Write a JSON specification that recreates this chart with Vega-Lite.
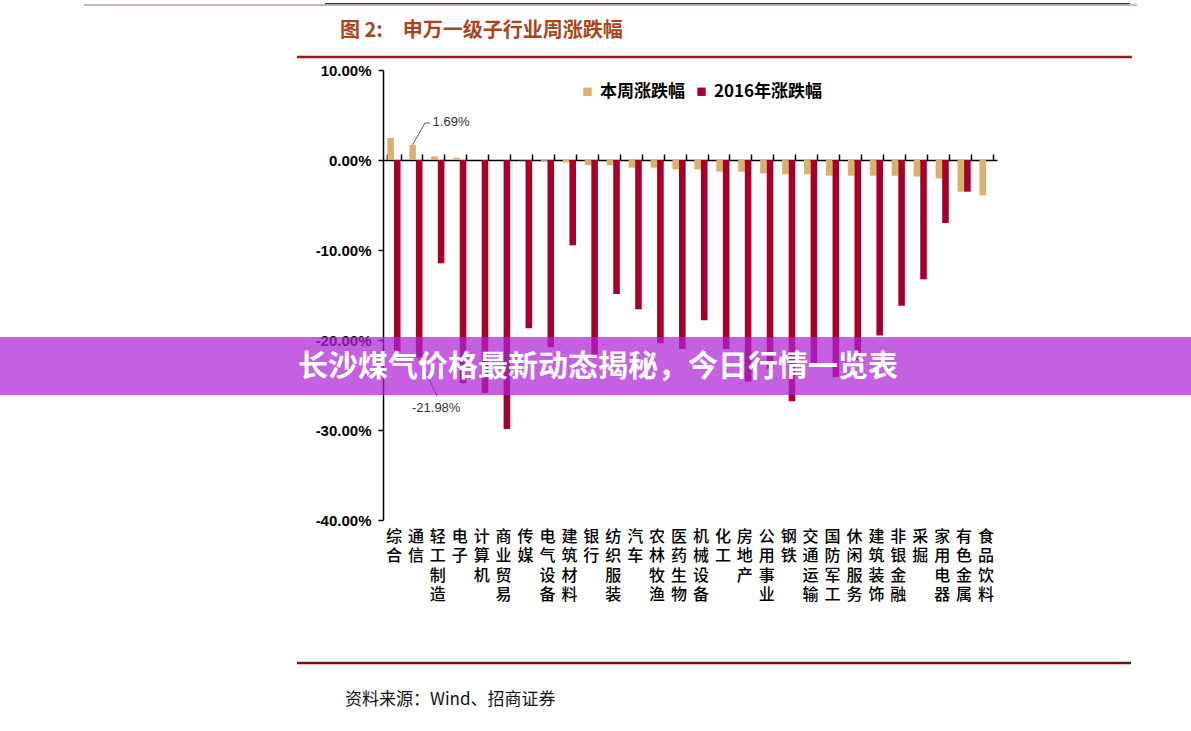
{
  "$schema": "https://vega.github.io/schema/vega-lite/v6.json",
  "width": 614,
  "height": 450,
  "autosize": {"type": "none"},
  "padding": {"left": 383, "top": 70, "right": 194, "bottom": 211},
  "background": "white",
  "config": {"view": {"stroke": null}},
  "layer": [
    {
      "data": {"values": [
        {"行业": "综合", "series": "本周涨跌幅", "value": 0.0245},
        {"行业": "综合", "series": "2016年涨跌幅", "value": -0.213},
        {"行业": "通信", "series": "本周涨跌幅", "value": 0.0169},
        {"行业": "通信", "series": "2016年涨跌幅", "value": -0.2198},
        {"行业": "轻工制造", "series": "本周涨跌幅", "value": 0.004},
        {"行业": "轻工制造", "series": "2016年涨跌幅", "value": -0.1148},
        {"行业": "电子", "series": "本周涨跌幅", "value": 0.0026},
        {"行业": "电子", "series": "2016年涨跌幅", "value": -0.248},
        {"行业": "计算机", "series": "本周涨跌幅", "value": 0.0005},
        {"行业": "计算机", "series": "2016年涨跌幅", "value": -0.259},
        {"行业": "商业贸易", "series": "本周涨跌幅", "value": 0.0002},
        {"行业": "商业贸易", "series": "2016年涨跌幅", "value": -0.299},
        {"行业": "传媒", "series": "本周涨跌幅", "value": -0.0003},
        {"行业": "传媒", "series": "2016年涨跌幅", "value": -0.187},
        {"行业": "电气设备", "series": "本周涨跌幅", "value": -0.001},
        {"行业": "电气设备", "series": "2016年涨跌幅", "value": -0.208},
        {"行业": "建筑材料", "series": "本周涨跌幅", "value": -0.0028},
        {"行业": "建筑材料", "series": "2016年涨跌幅", "value": -0.0948},
        {"行业": "银行", "series": "本周涨跌幅", "value": -0.0057},
        {"行业": "银行", "series": "2016年涨跌幅", "value": -0.217},
        {"行业": "纺织服装", "series": "本周涨跌幅", "value": -0.0057},
        {"行业": "纺织服装", "series": "2016年涨跌幅", "value": -0.1489},
        {"行业": "汽车", "series": "本周涨跌幅", "value": -0.0085},
        {"行业": "汽车", "series": "2016年涨跌幅", "value": -0.1659},
        {"行业": "农林牧渔", "series": "本周涨跌幅", "value": -0.0085},
        {"行业": "农林牧渔", "series": "2016年涨跌幅", "value": -0.2037},
        {"行业": "医药生物", "series": "本周涨跌幅", "value": -0.0104},
        {"行业": "医药生物", "series": "2016年涨跌幅", "value": -0.21},
        {"行业": "机械设备", "series": "本周涨跌幅", "value": -0.0104},
        {"行业": "机械设备", "series": "2016年涨跌幅", "value": -0.178},
        {"行业": "化工", "series": "本周涨跌幅", "value": -0.013},
        {"行业": "化工", "series": "2016年涨跌幅", "value": -0.21},
        {"行业": "房地产", "series": "本周涨跌幅", "value": -0.013},
        {"行业": "房地产", "series": "2016年涨跌幅", "value": -0.246},
        {"行业": "公用事业", "series": "本周涨跌幅", "value": -0.0148},
        {"行业": "公用事业", "series": "2016年涨跌幅", "value": -0.232},
        {"行业": "钢铁", "series": "本周涨跌幅", "value": -0.0159},
        {"行业": "钢铁", "series": "2016年涨跌幅", "value": -0.268},
        {"行业": "交通运输", "series": "本周涨跌幅", "value": -0.0159},
        {"行业": "交通运输", "series": "2016年涨跌幅", "value": -0.23},
        {"行业": "国防军工", "series": "本周涨跌幅", "value": -0.0174},
        {"行业": "国防军工", "series": "2016年涨跌幅", "value": -0.241},
        {"行业": "休闲服务", "series": "本周涨跌幅", "value": -0.0174},
        {"行业": "休闲服务", "series": "2016年涨跌幅", "value": -0.222},
        {"行业": "建筑装饰", "series": "本周涨跌幅", "value": -0.0174},
        {"行业": "建筑装饰", "series": "2016年涨跌幅", "value": -0.195},
        {"行业": "非银金融", "series": "本周涨跌幅", "value": -0.0174},
        {"行业": "非银金融", "series": "2016年涨跌幅", "value": -0.162},
        {"行业": "采掘", "series": "本周涨跌幅", "value": -0.0185},
        {"行业": "采掘", "series": "2016年涨跌幅", "value": -0.1326},
        {"行业": "家用电器", "series": "本周涨跌幅", "value": -0.0204},
        {"行业": "家用电器", "series": "2016年涨跌幅", "value": -0.07},
        {"行业": "有色金属", "series": "本周涨跌幅", "value": -0.0352},
        {"行业": "有色金属", "series": "2016年涨跌幅", "value": -0.0352},
        {"行业": "食品饮料", "series": "本周涨跌幅", "value": -0.0393},
        {"行业": "食品饮料", "series": "2016年涨跌幅", "value": 0}
      ]},
      "layer": [
        {
          "mark": {"type": "bar"},
          "encoding": {
            "x": {
              "field": "行业", "type": "nominal", "sort": null,
              "scale": {
                "domain": ["综合", "通信", "轻工制造", "电子", "计算机", "商业贸易", "传媒", "电气设备", "建筑材料", "银行", "纺织服装", "汽车", "农林牧渔", "医药生物", "机械设备", "化工", "房地产", "公用事业", "钢铁", "交通运输", "国防军工", "休闲服务", "建筑装饰", "非银金融", "采掘", "家用电器", "有色金属", "食品饮料"],
                "paddingInner": 0.4, "paddingOuter": 0.2
              },
              "axis": {
                "orient": "bottom", "title": null, "domain": false, "ticks": false,
                "labelAngle": 0, "labelAlign": "center", "labelBaseline": "top",
                "labelPadding": 8, "labelFont": "Noto Sans CJK SC", "labelFontSize": 16,
                "labelFontWeight": 500,
                "labelLineHeight": 19.5, "labelColor": "#000000",
                "labelExpr": "split(datum.label, '')"
              }
            },
            "xOffset": {"field": "series", "type": "nominal", "scale": {"domain": ["本周涨跌幅", "2016年涨跌幅"]}},
            "y": {
              "field": "value", "type": "quantitative",
              "scale": {"domain": [-0.4, 0.1], "nice": false, "zero": true},
              "axis": {
                "title": null, "grid": false, "values": [-0.4, -0.3, -0.2, -0.1, 0, 0.1],
                "labelExpr": "replace(format(datum.value, '.2%'), '−', '-')",
                "labelFont": "Liberation Sans", "labelFontWeight": "bold", "labelFontSize": 15,
                "labelColor": "#000000", "labelPadding": 7,
                "domainColor": "#000000", "domainWidth": 1.5,
                "tickColor": "#000000", "tickWidth": 1.5, "tickSize": 5
              }
            },
            "color": {
              "field": "series", "type": "nominal",
              "scale": {"domain": ["本周涨跌幅", "2016年涨跌幅"], "range": ["#d9b06c", "#a6002a"]},
              "legend": {
                "orient": "none", "legendX": 196, "legendY": 13, "direction": "horizontal",
                "title": null, "symbolType": "square", "symbolSize": 70, "symbolStrokeWidth": 0,
                "labelFont": "Noto Sans CJK SC", "labelFontSize": 17, "labelFontWeight": "bold",
                "labelColor": "#000000", "columnPadding": 8, "labelOffset": 4
              }
            }
          }
        },
        {
          "mark": {"type": "text", "text": ""},
          "encoding": {
            "x": {
              "field": "行业", "type": "nominal", "sort": null,
              "axis": {
                "orient": "top", "offset": -90, "title": null, "labels": false,
                "tickBand": "extent", "domainColor": "#000000", "domainWidth": 1.5,
                "tickColor": "#000000", "tickWidth": 1.5, "tickSize": 6
              }
            },
            "y": {"datum": 0}
          }
        },
        {
          "transform": [{"filter": "datum['行业'] === '通信' && datum.series === '本周涨跌幅'"}],
          "mark": {
            "type": "text", "align": "left", "baseline": "middle", "dx": 20, "dy": -23,
            "font": "Liberation Sans", "fontSize": 13, "color": "#333333",
            "text": {"expr": "replace(format(datum.value, '.2%'), '−', '-')"}
          },
          "encoding": {
            "x": {"field": "行业", "type": "nominal", "sort": null, "axis": null},
            "xOffset": {"field": "series", "type": "nominal", "scale": {"domain": ["本周涨跌幅", "2016年涨跌幅"]}},
            "y": {"field": "value", "type": "quantitative"}
          }
        },
        {
          "transform": [{"filter": "datum['行业'] === '通信' && datum.series === '2016年涨跌幅'"}],
          "mark": {
            "type": "text", "align": "center", "baseline": "middle", "dx": 17, "dy": 50,
            "font": "Liberation Sans", "fontSize": 13, "color": "#333333",
            "text": {"expr": "replace(format(datum.value, '.2%'), '−', '-')"}
          },
          "encoding": {
            "x": {"field": "行业", "type": "nominal", "sort": null, "axis": null},
            "xOffset": {"field": "series", "type": "nominal", "scale": {"domain": ["本周涨跌幅", "2016年涨跌幅"]}},
            "y": {"field": "value", "type": "quantitative"}
          }
        }
      ],
      "resolve": {"axis": {"x": "independent"}}
    },
    {
      "data": {"values": [{}]},
      "layer": [
        {
          "mark": {"type": "rule", "color": "#a0665c", "strokeWidth": 1},
          "encoding": {
            "x": {"datum": -13.65, "type": "quantitative", "scale": {"domain": [0, 28], "nice": false, "zero": false}, "axis": null},
            "x2": {"datum": 34.38},
            "y": {"datum": 0.1722}
          }
        },
        {
          "mark": {"type": "rule", "color": "#222222", "strokeWidth": 1},
          "encoding": {
            "x": {"datum": -2.645, "type": "quantitative", "scale": {"domain": [0, 28], "nice": false, "zero": false}, "axis": null},
            "x2": {"datum": 34.06},
            "y": {"datum": 0.1738}
          }
        },
        {
          "mark": {"type": "rule", "color": "#9c1a1a", "strokeWidth": 2.5},
          "encoding": {
            "x": {"datum": -3.92, "type": "quantitative", "scale": {"domain": [0, 28], "nice": false, "zero": false}, "axis": null},
            "x2": {"datum": 34.15},
            "y": {"datum": 0.1144}
          }
        },
        {
          "mark": {"type": "rule", "color": "#6e1414", "strokeWidth": 2.5},
          "encoding": {
            "x": {"datum": -3.92, "type": "quantitative", "scale": {"domain": [0, 28], "nice": false, "zero": false}, "axis": null},
            "x2": {"datum": 34.11},
            "y": {"datum": -0.5589}
          }
        },
        {
          "mark": {"type": "text", "text": "图 2:　申万一级子行业周涨跌幅", "align": "left", "baseline": "middle", "font": "Noto Sans CJK SC", "fontSize": 20, "fontWeight": "bold", "color": "#a94420"},
          "encoding": {
            "x": {"datum": -1.96, "type": "quantitative", "scale": {"domain": [0, 28], "nice": false, "zero": false}, "axis": null},
            "y": {"datum": 0.1433}
          }
        },
        {
          "mark": {"type": "text", "text": "资料来源：Wind、招商证券", "align": "left", "baseline": "middle", "font": "Noto Sans CJK SC", "fontSize": 17, "color": "#111111"},
          "encoding": {
            "x": {"datum": -1.733, "type": "quantitative", "scale": {"domain": [0, 28], "nice": false, "zero": false}, "axis": null},
            "y": {"datum": -0.6}
          }
        },
        {
          "mark": {"type": "rule", "color": "#595959", "strokeWidth": 1},
          "encoding": {
            "x": {"datum": 1.35, "type": "quantitative", "scale": {"domain": [0, 28], "nice": false, "zero": false}, "axis": null},
            "x2": {"datum": 1.915},
            "y": {"datum": 0.0169},
            "y2": {"datum": 0.0411}
          }
        },
        {
          "mark": {"type": "rule", "color": "#595959", "strokeWidth": 1},
          "encoding": {
            "x": {"datum": 1.915, "type": "quantitative", "scale": {"domain": [0, 28], "nice": false, "zero": false}, "axis": null},
            "x2": {"datum": 2.143},
            "y": {"datum": 0.0411},
            "y2": {"datum": 0.0411}
          }
        },
        {
          "mark": {"type": "rule", "color": "#595959", "strokeWidth": 1},
          "encoding": {
            "x": {"datum": 1.65, "type": "quantitative", "scale": {"domain": [0, 28], "nice": false, "zero": false}, "axis": null},
            "x2": {"datum": 2.462},
            "y": {"datum": -0.2198},
            "y2": {"datum": -0.2622}
          }
        },
        {
          "mark": {"type": "rect", "color": "#ae22d4", "opacity": 0.72},
          "encoding": {
            "x": {"datum": -17.6, "type": "quantitative", "scale": {"domain": [0, 28], "nice": false, "zero": false}, "axis": null},
            "x2": {"datum": 36.9},
            "y": {"datum": -0.1967},
            "y2": {"datum": -0.261}
          }
        },
        {
          "mark": {"type": "text", "text": "长沙煤气价格最新动态揭秘，今日行情一览表", "align": "left", "baseline": "middle", "font": "Noto Sans CJK SC", "fontSize": 30, "fontWeight": "bold", "color": "#ffffff"},
          "encoding": {
            "x": {"datum": -3.876, "type": "quantitative", "scale": {"domain": [0, 28], "nice": false, "zero": false}, "axis": null},
            "y": {"datum": -0.23}
          }
        }
      ]
    }
  ],
  "resolve": {"scale": {"x": "independent"}}
}
